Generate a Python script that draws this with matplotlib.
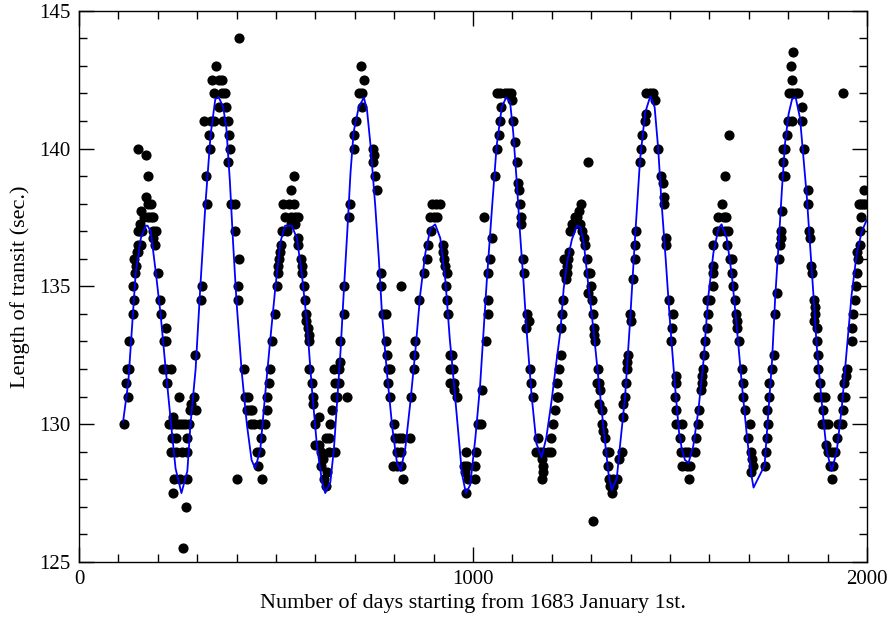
import matplotlib
matplotlib.use("Agg")
import matplotlib.pyplot as plt
from matplotlib.ticker import MultipleLocator

# ---- observed transit lengths (day number, seconds) ----
days = [
    115, 119, 125, 122, 127, 127, 137, 140, 137, 142, 144, 140, 147, 150, 151, 157, 149, 155, 160, 154,
    158, 166, 174, 182, 189, 174, 184, 170, 176, 171, 150, 187, 195, 189, 192, 201, 206, 209, 221, 216,
    221, 212, 220, 233, 224, 253, 292, 285, 281, 296, 295, 229, 237, 245, 254, 262, 270, 279, 238, 237,
    245, 275, 233, 245, 262, 275, 241, 256, 273, 239, 271, 265, 310, 312, 325, 323, 332, 330, 317, 334,
    342, 355, 342, 338, 355, 347,
    364, 362, 370, 374, 366, 379, 380, 382, 377, 387, 396, 396, 407, 404, 404, 407, 418, 421, 428, 426,
    434, 440, 437, 445, 460, 472, 451, 460, 454, 402, 464, 462, 477, 477, 481, 485, 491, 498, 502, 506,
    504, 507, 510, 513, 515, 528, 524, 537, 549, 557, 519, 532, 545, 539, 546, 539, 549, 556, 556, 564,
    567, 567, 570, 573, 575, 577, 580, 583, 584, 585, 591, 594, 594, 599, 609, 600, 609, 613, 619, 615,
    621, 626, 634, 638, 626, 643, 649, 649, 647, 634, 630,
    651, 655, 659, 659, 663, 663, 672, 672, 679, 685, 689, 697, 699, 704, 710, 719, 723, 716, 719, 746,
    748, 746, 752, 756, 767, 767, 772, 778, 780, 782, 784, 789, 784, 790, 799, 803, 811, 820, 841, 806,
    816, 797, 806, 817, 822, 817, 843, 851, 851, 854, 862, 876, 882, 887, 893, 890, 900, 908, 896, 907,
    917, 924, 925, 927, 930, 934, 932, 934, 936, 941, 941, 941,
    947, 948, 951, 953, 959, 981, 1008, 976, 985, 1004, 979, 987, 1006, 982, 1013, 1021, 1024, 1033, 1037, 1038,
    1029, 1039, 1044, 1048, 1056, 1060, 1065, 1069, 1071, 1060, 1069, 1080, 1088, 1097, 1098, 1102, 1107, 1111, 1115, 1117,
    1119, 1122, 1122, 1128, 1129, 1137, 1141, 1135, 1145, 1147, 1153, 1164, 1161, 1170, 1178, 1191, 1197, 1174, 1178, 1178,
    1175, 1199, 1203, 1207, 1212, 1216, 1214, 1218, 1223, 1224, 1226, 1228, 1231, 1231,
    1237, 1239, 1239, 1241, 1243, 1245, 1251, 1260, 1264, 1268, 1274, 1268, 1255, 1272, 1276, 1281, 1285, 1289, 1293, 1297,
    1291, 1299, 1293, 1302, 1304, 1308, 1306, 1310, 1316, 1314, 1321, 1323, 1321, 1327, 1327, 1335, 1331, 1344, 1339, 1342,
    1346, 1356, 1365, 1348, 1356, 1352, 1304, 1371, 1377, 1381, 1381, 1386, 1388, 1390, 1392, 1394, 1400, 1398, 1407, 1411,
    1411, 1414, 1424, 1426, 1428, 1437, 1440, 1440, 1449, 1457, 1461, 1470, 1478, 1481, 1486, 1484, 1491, 1489, 1497, 1507,
    1506, 1502, 1514, 1514, 1512, 1516, 1516,
    1530, 1525, 1528, 1538, 1546, 1564, 1530, 1542, 1551, 1547, 1565, 1572, 1574, 1579, 1580, 1582, 1585, 1587, 1589, 1593,
    1596, 1593, 1602, 1608, 1608, 1610, 1610, 1619, 1627, 1640, 1648, 1623, 1636, 1642, 1633, 1640, 1650, 1644, 1652, 1657,
    1658, 1661, 1665, 1667, 1669, 1669, 1675, 1682, 1686, 1686, 1691, 1703, 1697, 1705, 1709, 1711, 1705, 1741, 1743, 1746,
    1748, 1746, 1750, 1752, 1759, 1763, 1767, 1771, 1777, 1780, 1782, 1782, 1784, 1788, 1792, 1788, 1792, 1788, 1796, 1799,
    1809, 1801, 1809, 1809, 1807, 1813,
    1821, 1825, 1834, 1836, 1841, 1849, 1851, 1853, 1855, 1859, 1861, 1866, 1868, 1868, 1866, 1872, 1872, 1875, 1876, 1881,
    1876, 1885, 1893, 1889, 1885, 1893, 1902, 1897, 1902, 1910, 1919, 1906, 1914, 1910, 1923, 1927, 1936, 1940, 1936, 1944,
    1942, 1946, 1948, 1940, 1961, 1961, 1965, 1969, 1972, 1974, 1978, 1974, 1983, 1982, 1986, 1991, 1980, 1985, 1995, 1993,
]

transit = [
    130, 131.5, 131, 132, 132, 133, 134, 134.5, 135, 135.5, 135.75, 136, 136.25, 136.25, 136.5, 136.5, 137, 137, 137, 137.25,
    137.75, 137.5, 137.5, 137.5, 137.5, 138, 138, 138.25, 139, 139.75, 140, 137, 137, 136.75, 136.5, 135.5, 134.5, 134, 133.5, 133,
    133, 132, 132, 132, 131.5, 131, 131, 130.75, 130.5, 130.5, 132.5, 130, 130, 130, 130, 130, 130, 130, 130.25, 129.5,
    129.5, 129.5, 129, 129, 129, 129, 128, 128, 128, 127.5, 127, 125.5, 134.5, 135, 138, 139, 140, 140.5, 141, 141,
    141, 141.5, 142, 142.5, 142.5, 143,
    142.5, 142, 142, 141.5, 141, 141, 140.5, 140, 139.5, 138, 138, 137, 136, 135, 134.5, 144, 132, 131, 131, 130.5,
    130.5, 130.5, 130, 130, 130, 130, 129, 129, 128.5, 128, 128, 129.5, 131, 130.5, 131.5, 132, 133, 134, 135, 135.5,
    135.75, 136, 136.25, 136.5, 137, 137, 137.5, 137.5, 137.5, 137.5, 138, 138, 138, 138.5, 139, 137.25, 137.25, 136.75, 136.5, 136,
    135.75, 135.5, 135, 134.5, 134, 133.75, 133.5, 133.25, 133, 132, 131.5, 131, 130.75, 130, 130.25, 129.25, 129.25, 129, 128.75, 128.5,
    128, 127.75, 129.5, 130, 129.5, 130.5, 131.5, 131, 132, 129, 128.25,
    129, 131, 131.5, 132, 132.25, 133, 134, 135, 131, 137.5, 138, 140, 140.5, 141, 142, 142, 142.5, 143, 141.5, 140,
    139.75, 139.5, 139, 138.5, 135.5, 135, 134, 134, 133, 132.5, 132, 132, 131.5, 131, 130, 129.5, 129.5, 129.5, 129.5, 129,
    129, 128.5, 128.5, 128.5, 128, 135, 131, 132, 132.5, 133, 134.5, 135.5, 136, 136.5, 137, 137.5, 137.5, 137.5, 138, 138,
    138, 136.5, 136.25, 136, 135.75, 135.5, 135, 134.5, 134, 132.5, 132, 131.5,
    132.5, 132, 131.5, 131.25, 131, 129, 129, 128.5, 128.5, 128.5, 128.25, 128, 128, 127.5, 130, 130, 131.25, 133, 134, 134.5,
    137.5, 135.5, 136, 136.75, 139, 140, 140.5, 141, 141.5, 142, 142, 142, 142, 142, 141.75, 141, 140.25, 139.5, 138.75, 138.5,
    138, 137.5, 137.25, 136, 135.5, 134, 133.75, 133.5, 132, 131.5, 131, 129.5, 129, 129, 129, 129, 129, 128.75, 128.5, 128.25,
    128, 129.5, 130, 130.5, 131, 131, 131.5, 132, 132.5, 133.5, 134, 134.5, 135.5, 136,
    135.25, 135.5, 135.75, 136, 136.25, 137, 137.25, 137.5, 137.5, 137.25, 138, 137.75, 137.25, 137.25, 137, 136.75, 136.5, 136, 135.5, 135.5,
    139.5, 135, 134.75, 134.5, 134, 133.5, 133.25, 133, 132, 131.5, 131.5, 131.25, 130.75, 130.5, 130, 129.5, 129.75, 129, 129, 128.5,
    128, 128, 128, 127.75, 127.75, 127.5, 126.5, 128.75, 129, 130.25, 130.75, 131, 131.5, 132, 132.25, 132.5, 133.75, 134, 135.25, 136,
    136.5, 137, 139.5, 140, 140.5, 141, 141.25, 142, 142, 142, 141.75, 140, 139, 138.75, 138.25, 138, 136.75, 136.5, 134.5, 134,
    133.5, 133, 131.75, 131.5, 131, 130.5, 130,
    130, 129.5, 129, 129, 129, 129, 128.5, 128.5, 128.5, 128, 129.5, 130, 130.5, 131.25, 131.5, 131.75, 132, 132.5, 133, 133.5,
    134, 134.5, 134.5, 135, 135.5, 135.75, 136.5, 137, 137, 137, 137, 137.5, 137.5, 137.5, 138, 139, 140.5, 136.5, 136, 136,
    135.5, 135, 134.5, 134, 133.75, 133.5, 133, 132, 131.5, 131, 130.5, 130, 129.5, 129, 128.75, 128.5, 128.25, 128.5, 129, 129.5,
    130, 130.5, 131, 131.5, 132, 132.5, 134, 134.75, 136, 136.5, 136.75, 137, 137.75, 139, 139, 139.5, 140, 140, 140.5, 141,
    141, 142, 142, 142.5, 143, 143.5,
    142, 142, 141, 141.5, 140, 138.5, 138, 137, 136.75, 135.75, 135.5, 134.5, 134.25, 134, 133.75, 133.5, 133, 132.5, 132, 131.5,
    131, 131, 131, 130.5, 130, 130, 130, 129.25, 129, 129, 129, 128.5, 128.5, 128, 129.5, 130, 130, 130.5, 131, 131,
    131.5, 131.75, 132, 142, 133, 133.5, 134, 134.5, 135, 135.5, 136, 136.25, 136.5, 137, 137.5, 138, 138, 138, 138, 138.5,
]

# ---- fitted curve ----
fit_days = [
    112, 125, 137, 144, 157, 170, 174, 182, 195, 207, 220, 233, 245, 260, 275, 283, 296, 308, 321, 334,
    346, 355, 366, 374, 383, 391, 400, 413, 426, 438, 447, 460, 472, 485, 498, 511, 523, 540, 553, 566,
    579, 591, 604, 617, 625, 638, 647, 655, 664, 672, 681, 689, 697, 710, 723, 731, 740, 752, 761, 769,
    782, 795, 807, 816, 828, 841, 854, 866, 879, 892, 904, 917, 930, 941, 947, 960, 972, 982, 993, 1006,
    1018, 1027, 1035, 1048, 1060, 1073, 1084, 1094, 1102, 1111, 1119, 1128, 1136, 1149, 1161, 1174, 1186, 1199, 1212, 1222,
    1230, 1239, 1251, 1264, 1272, 1281, 1293, 1306, 1318, 1331, 1344, 1352, 1365, 1373, 1386, 1398, 1411, 1424, 1437, 1450,
    1461, 1470, 1478, 1489, 1499, 1512, 1523, 1530, 1538, 1547, 1559, 1572, 1585, 1597, 1610, 1623, 1631, 1644, 1657, 1669,
    1682, 1695, 1706, 1712, 1740, 1750, 1759, 1767, 1776, 1784, 1792, 1801, 1810, 1819, 1830, 1838, 1847, 1855, 1864, 1872,
    1885, 1897, 1910, 1923, 1936, 1948, 1961, 1974, 1987, 1999,
]
fit_vals = [
    130.1, 131.5, 134.0, 135.5, 136.75, 137.2, 137.2, 137.0, 135.5, 134.0, 132.0, 130.1, 128.4, 127.5, 128.3, 130.0, 132.0, 135.0, 138.0, 140.5,
    141.8, 141.85, 141.5, 140.75, 138.8, 136.6, 134.4, 131.9, 130.0, 128.7, 128.4, 129.05, 131.0, 133.0, 134.9, 136.6, 137.2, 137.2, 136.75, 135.4,
    133.6, 131.3, 129.2, 127.9, 127.5, 127.9, 129.1, 130.8, 132.7, 134.8, 137.0, 139.1, 140.6, 141.5, 141.85, 141.4, 140.1, 137.9, 136.0, 134.0,
    131.8, 129.9, 128.6, 128.3, 129.1, 130.8, 132.7, 134.7, 136.2, 137.1, 137.25, 136.75, 135.2, 133.1, 132.2, 130.1, 128.2, 127.5, 127.8, 129.5,
    131.4, 133.4, 135.2, 137.8, 140.1, 141.5, 141.85, 141.7, 140.6, 138.8, 137.0, 135.2, 133.4, 131.0, 129.3, 128.8, 129.5, 130.8, 132.3, 133.4,
    134.9, 135.9, 136.7, 137.2, 137.15, 136.6, 135.0, 133.4, 131.7, 129.9, 128.2, 127.6, 128.05, 129.2, 131.0, 133.6, 136.7, 139.6, 141.3, 141.9,
    141.5, 140.0, 138.15, 136.0, 133.9, 131.5, 129.7, 129.1, 128.7, 128.6, 129.2, 130.5, 132.3, 134.6, 136.2, 137.1, 137.25, 136.75, 135.4, 133.6,
    131.5, 129.6, 128.2, 127.7, 128.5, 130.5, 132.3, 134.6, 136.6, 138.5, 140.2, 141.25, 141.8, 141.85, 141.1, 139.8, 138.3, 136.6, 134.7, 132.9,
    130.8, 129.1, 128.3, 129.0, 130.6, 132.6, 134.7, 136.2, 137.0, 137.4,
]

plt.rcParams['font.family'] = ['Liberation Serif', 'DejaVu Serif']

fig = plt.figure(figsize=(8.92, 6.18), dpi=100)
ax = fig.add_axes([79 / 892, 1 - 562 / 618, 788 / 892, (562 - 10.7) / 618])

ax.plot(days, transit, linestyle='none', marker='o', markersize=6.3,
        color='black', zorder=2)
ax.plot(fit_days, fit_vals, color='#0000ff', linewidth=1.3, zorder=3)

ax.set_xlim(0, 2000)
ax.set_ylim(125, 145)
ax.xaxis.set_major_locator(MultipleLocator(1000))
ax.xaxis.set_minor_locator(MultipleLocator(100))
ax.yaxis.set_major_locator(MultipleLocator(5))
ax.yaxis.set_minor_locator(MultipleLocator(1))

ax.tick_params(which='both', direction='in', top=True, right=True,
               width=1.0, labelsize=15, pad=6)
ax.tick_params(which='major', length=11)
ax.tick_params(which='minor', length=5.5)
for s in ax.spines.values():
    s.set_linewidth(1.0)

ax.set_xlabel('Number of days starting from 1683 January 1st.', fontsize=16)
ax.set_ylabel('Length of transit (sec.)', fontsize=16)
ax.xaxis.set_label_coords(0.5, -0.056)
ax.yaxis.set_label_coords(-0.062, 0.5)

fig.savefig('out.png', dpi=100)
